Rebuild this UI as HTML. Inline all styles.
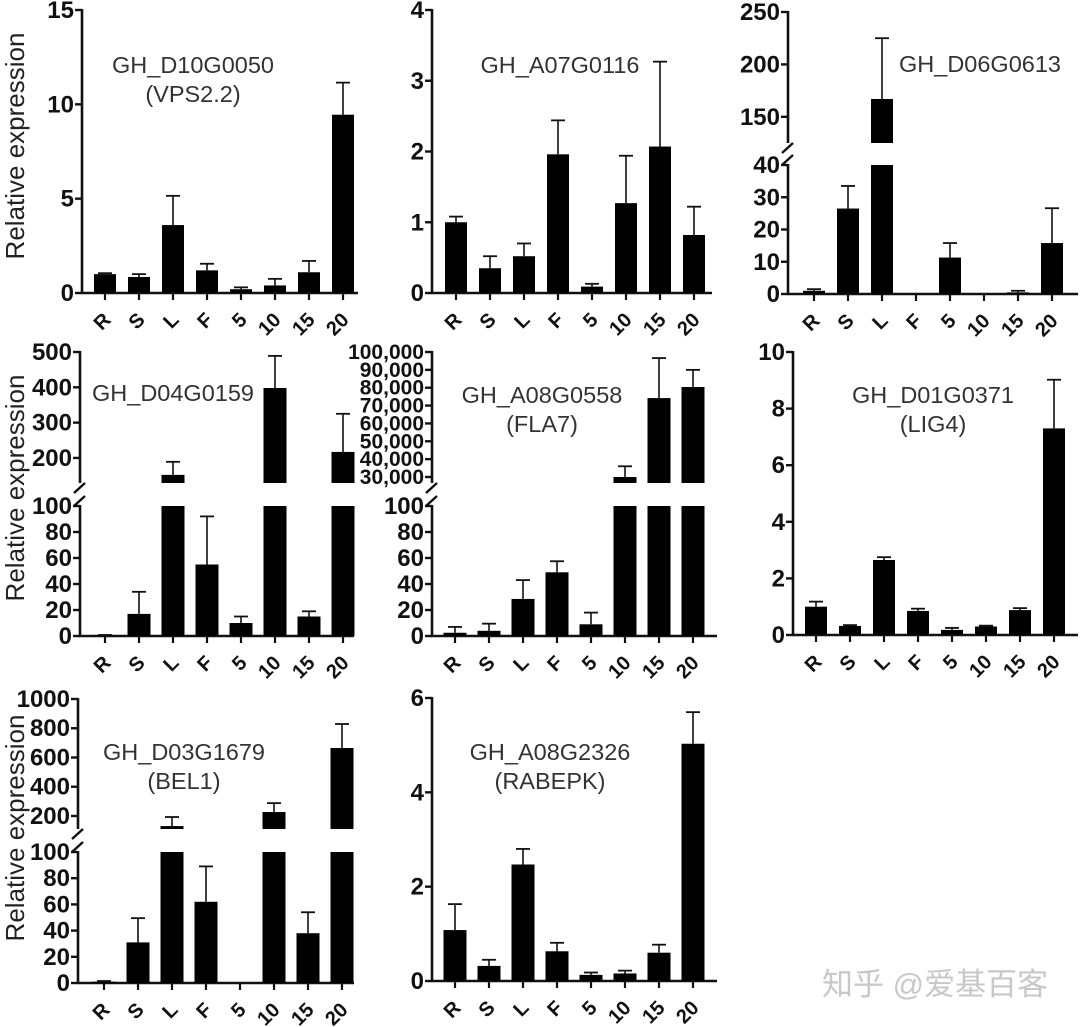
<!DOCTYPE html>
<html><head><meta charset="utf-8">
<style>
html,body{margin:0;padding:0;background:#fff;}
svg{display:block;}
.tk{font-family:"Liberation Sans Narrow","Liberation Sans",sans-serif;font-weight:bold;font-size:24px;fill:#111;}
.xl{font-family:"Liberation Sans",sans-serif;font-weight:bold;font-size:20px;fill:#111;}
.tt{font-family:"Liberation Sans",sans-serif;font-size:23.5px;fill:#333;}
.yt{font-family:"Liberation Sans",sans-serif;font-size:26px;fill:#222;}
</style></head>
<body>
<svg id="fig" width="1080" height="1027" viewBox="0 0 1080 1027" xmlns="http://www.w3.org/2000/svg">
<text class="yt" transform="translate(24,146) rotate(-90)" text-anchor="middle">Relative expression</text>
<text class="yt" transform="translate(24,488) rotate(-90)" text-anchor="middle">Relative expression</text>
<text class="yt" transform="translate(24,828) rotate(-90)" text-anchor="middle">Relative expression</text>
<text x="822" y="995" font-family="'Liberation Sans','Noto Sans CJK SC',sans-serif" font-size="31" fill="#c8c8c8">知乎 @爱基百客</text>
</svg>
<script>
const categories = ["R","S","L","F","5","10","15","20"];
const p1Values = [1.0,0.85,3.6,1.2,0.2,0.4,1.1,9.45];
const p1Errors = [0.05,0.15,1.55,0.35,0.1,0.35,0.6,1.7];
const p2Values = [1.0,0.35,0.52,1.96,0.09,1.27,2.07,0.82];
const p2Errors = [0.08,0.17,0.18,0.48,0.04,0.67,1.2,0.4];
const p3Values = [1.0,26.5,167,0,11.3,0,0.5,15.8];
const p3Errors = [0.5,7,58,0,4.5,0,0.5,10.8];
const p4Values = [0.5,17,152,55,10,398,15,217];
const p4Errors = [0.3,17,37,37,5,91,4,108];
const p5Values = [2.5,4,28.5,49,9,30000,74200,80400];
const p5Errors = [4.5,5.5,14.5,8.5,9,6000,22400,9600];
const p6Values = [1.0,0.32,2.65,0.85,0.18,0.3,0.88,7.3];
const p6Errors = [0.18,0.03,0.1,0.08,0.07,0.03,0.07,1.72];
const p7Values = [1,31,131,62,0,227,38,665];
const p7Errors = [0.5,18.5,62,27,0,61,16,164];
const p8Values = [1.08,0.32,2.47,0.63,0.13,0.16,0.6,5.03];
const p8Errors = [0.55,0.13,0.33,0.18,0.05,0.06,0.17,0.67];
const p1Ticks = [0,5,10,15];
const p2Ticks = [0,1,2,3,4];
const p3LowTicks = [0,10,20,30,40];
const p3HighTicks = [150,200,250];
const p4LowTicks = [0,20,40,60,80,100];
const p4HighTicks = [200,300,400,500];
const p5HighTicks = [30000,40000,50000,60000,70000,80000,90000,100000];
const p6Ticks = [0,2,4,6,8,10];
const p7HighTicks = [200,400,600,800,1000];
const p8Ticks = [0,2,4,6];

const NS="http://www.w3.org/2000/svg";
const svg=document.getElementById('fig');
function mk(tag,attrs,parent){const e=document.createElementNS(NS,tag);for(const k in attrs)e.setAttribute(k,attrs[k]);(parent||svg).appendChild(e);return e;}
function fmt(v){return v>=10000?v.toLocaleString('en-US'):String(v);}

function panel(id,cfg,values,errors,title){
  const g=mk('g',{});
  
  
  const segs=cfg.segs;
  const axisY=segs[0].y0;
  const small=cfg.small||false;
  segs.forEach((s,si)=>{
    const yS=v=>s.y0+(v-s.d0)/(s.d1-s.d0)*(s.y1-s.y0);
    s.y=yS;
    const ax=mk('line',{x1:cfg.ax,y1:s.y0+(si===0?1:0),x2:cfg.ax,y2:s.y1-1,stroke:'#111','stroke-width':2.6},g);
    
    
    s.ticks.forEach(t=>{
      const ty=yS(t);
      const tl=mk('line',{x1:cfg.ax-7,y1:ty,x2:cfg.ax,y2:ty,stroke:'#111','stroke-width':2.4},g);
      
      
      const tx=mk('text',{x:cfg.ax-8,y:ty+8,'text-anchor':'end',class:'tk'},g);
      if(t>=10000){tx.setAttribute('style','font-size:21px');tx.setAttribute('y',ty+7);}
      
      
      tx.textContent=fmt(t);
    });
  });
  if(segs.length>1){
    const b1=segs[1].y0, b2=segs[0].y1;
    [b1+5,b2-5].forEach(by=>{
      const bl=mk('line',{x1:cfg.ax-6,y1:by+5,x2:cfg.ax+5,y2:by-5,stroke:'#111','stroke-width':2.4},g);
      
      
    });
  }
  const xa=mk('line',{x1:cfg.ax-1,y1:axisY,x2:cfg.xEnd,y2:axisY,stroke:'#111','stroke-width':2.6},g);
  
  
  categories.forEach((c,i)=>{
    const cx=cfg.x0+i*cfg.step;
    const v=values[i], e=errors[i];
    segs.forEach(s=>{
      if(v>s.d0){
        const yt=s.y(Math.min(v,s.d1)), yb=s.y0;
        const r=mk('rect',{x:cx-cfg.bw/2,y:yt,width:cfg.bw,height:Math.max(yb-yt,0),fill:'#000'},g);
        
        
      }
    });
    let seg=segs[0];
    segs.forEach(s=>{if(v>=s.d0)seg=s;});
    if(e>0){
      const yv=seg.y(v), ye=seg.y(Math.min(v+e,seg.d1+(seg.d1-seg.d0)*0.05));
      const el=mk('line',{x1:cx,y1:yv,x2:cx,y2:ye,stroke:'#111','stroke-width':1.6},g);
      
      
      const ec=mk('line',{x1:cx-7,y1:ye,x2:cx+7,y2:ye,stroke:'#111','stroke-width':1.8},g);
      
      
    }
    const xt=mk('line',{x1:cx,y1:axisY,x2:cx,y2:axisY+7,stroke:'#111','stroke-width':2.2},g);
    
    
    const lx=cx+7, ly=axisY+28;
    const lb=mk('text',{x:lx,y:ly,'text-anchor':'end',class:'xl',transform:`rotate(-45 ${lx} ${ly})`},g);
    
    
    lb.textContent=c;
  });
  title.lines.forEach((t,k)=>{
    const tt=mk('text',{x:title.x,y:title.y+k*29,'text-anchor':'middle',class:'tt'},g);
    
    
    tt.textContent=t;
  });
}

panel('panel-d10g0050',{ax:82,x0:105,step:34,bw:22,xEnd:358,segs:[{d0:0,d1:15,y0:293,y1:10,ticks:p1Ticks}]},p1Values,p1Errors,{x:193,y:73,lines:['GH_D10G0050','(VPS2.2)']});
panel('panel-a07g0116',{ax:432,x0:456,step:34,bw:22,xEnd:712,segs:[{d0:0,d1:4,y0:293,y1:10,ticks:p2Ticks}]},p2Values,p2Errors,{x:560,y:73,lines:['GH_A07G0116']});
panel('panel-d06g0613',{ax:788,x0:814,step:34,bw:22,xEnd:1078,segs:[{d0:0,d1:40,y0:294,y1:165,ticks:p3LowTicks},{d0:125,d1:250,y0:143,y1:12,ticks:p3HighTicks}]},p3Values,p3Errors,{x:980,y:72,lines:['GH_D06G0613']});
panel('panel-d04g0159',{ax:80,x0:105,step:34,bw:23,xEnd:354,segs:[{d0:0,d1:100,y0:636,y1:506,ticks:p4LowTicks},{d0:129,d1:500,y0:483,y1:352,ticks:p4HighTicks}]},p4Values,p4Errors,{x:173,y:401,lines:['GH_D04G0159']});
panel('panel-a08g0558',{ax:432,x0:455,step:34,bw:23,xEnd:717,segs:[{d0:0,d1:100,y0:636,y1:506,ticks:p4LowTicks},{d0:26640,d1:100000,y0:483,y1:352,ticks:p5HighTicks}]},p5Values,p5Errors,{x:542,y:403,lines:['GH_A08G0558','(FLA7)']});
panel('panel-d01g0371',{ax:793,x0:816,step:34,bw:22,xEnd:1078,segs:[{d0:0,d1:10,y0:635,y1:352,ticks:p6Ticks}]},p6Values,p6Errors,{x:933,y:403,lines:['GH_D01G0371','(LIG4)']});
panel('panel-d03g1679',{ax:78,x0:104,step:34,bw:23,xEnd:354,segs:[{d0:0,d1:100,y0:983,y1:852,ticks:p4LowTicks},{d0:111,d1:1000,y0:829,y1:699,ticks:p7HighTicks}]},p7Values,p7Errors,{x:184,y:760,lines:['GH_D03G1679','(BEL1)']});
panel('panel-a08g2326',{ax:432,x0:455,step:34,bw:23,xEnd:717,segs:[{d0:0,d1:6,y0:981,y1:698,ticks:p8Ticks}]},p8Values,p8Errors,{x:550,y:760,lines:['GH_A08G2326','(RABEPK)']});
</script>
</body></html>
